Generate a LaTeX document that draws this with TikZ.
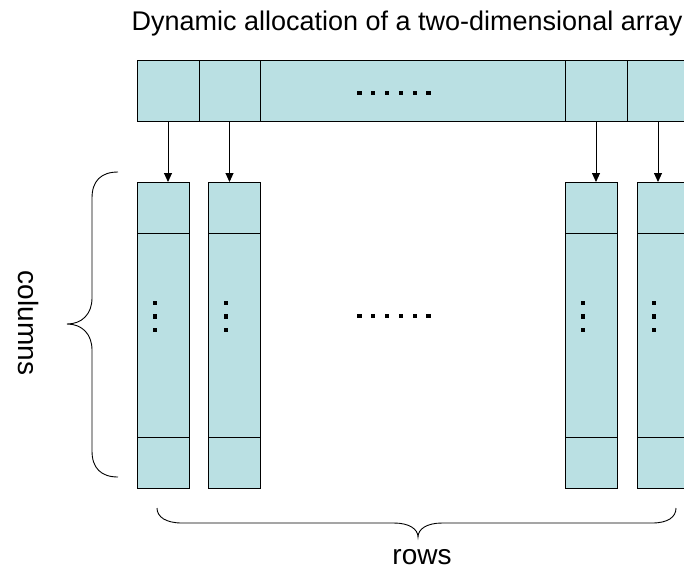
\documentclass[tikz,border=0pt]{standalone}
\usepackage{fontspec}
\setmainfont{Liberation Sans}
\usetikzlibrary{arrows.meta}
\definecolor{cellfill}{RGB}{186,224,227}
\tikzset{
  cell/.style={draw=black, fill=cellfill, line width=0.9pt, rectangle, inner sep=0pt, outer sep=0pt},
  link/.style={draw=black, line width=0.9pt, -{Triangle[width=8pt,length=9pt]}},
  bracepath/.style={draw=black, line width=0.9pt},
  dotmark/.style={fill=black, draw=none, minimum size=4.2pt, inner sep=0pt, rectangle},
  lbl/.style={font=\fontsize{28}{32}\selectfont, inner sep=0pt}
}
\begin{document}
\begin{tikzpicture}[x=1pt,y=-1pt]
\useasboundingbox (0,0) rectangle (684,571);
\clip (0,0) rectangle (684,571);
% title
\node[lbl, anchor=base, font=\fontsize{27}{30}\selectfont] (title) at (407,30) {Dynamic allocation of a two-dimensional array};
% top bar cells
\node[cell, minimum width=62pt, minimum height=61pt] (t1) at (168,90.5) {};
\node[cell, minimum width=61pt, minimum height=61pt] (t2) at (229.5,90.5) {};
\node[cell, minimum width=305pt, minimum height=61pt] (t3) at (412.5,90.5) {};
\node[cell, minimum width=62pt, minimum height=61pt] (t4) at (596,90.5) {};
\node[cell, minimum width=62pt, minimum height=61pt] (t5) at (658,90.5) {};
% columns
\node[cell, minimum width=52pt, minimum height=306pt] (c1) at (163,335) {};
\node[cell, minimum width=52pt, minimum height=306pt] (c2) at (234,335) {};
\node[cell, minimum width=52pt, minimum height=306pt] (c3) at (591,335) {};
\node[cell, minimum width=52pt, minimum height=306pt] (c4) at (663,335) {};
\foreach \c in {c1,c2,c3,c4}{
  \draw[line width=0.9pt] ([yshift=-51pt]\c.north west) -- ([yshift=-51pt]\c.north east);
  \draw[line width=0.9pt] ([yshift=51pt]\c.south west) -- ([yshift=51pt]\c.south east);
}
% arrows
\draw[link] (t1.south) -- (t1.south |- c1.north);
\draw[link] (t2.south) -- (t2.south |- c2.north);
\draw[link] (t4.south) -- (t4.south |- c3.north);
\draw[link] (t5.south) -- (t5.south |- c4.north);
% horizontal dots
\foreach \i in {0,...,5}{
  \node[dotmark] (td\i) at (359.5+13.8*\i,93) {};
  \node[dotmark] (md\i) at (359.5+13.8*\i,316) {};
}
% vertical dots in columns
\foreach \c/\x in {c1/155,c2/226,c3/583,c4/654}{
  \foreach \j in {0,1,2}{
    \node[dotmark] (\c d\j) at (\x,303+13.5*\j) {};
  }
}
% left brace
\draw[bracepath] (118,172) .. controls (101,172) and (92,181) .. (92,198) -- (92,298)
  .. controls (92,314) and (82,324) .. (67,324)
  .. controls (82,324) and (92,334) .. (92,350) -- (92,451)
  .. controls (92,468) and (101,477) .. (118,477);
% bottom brace
\draw[bracepath] (157,508) .. controls (157,517) and (166,523) .. (182,523) -- (394,523)
  .. controls (409,523) and (418,529) .. (418,537)
  .. controls (418,529) and (427,523) .. (442,523) -- (652,523)
  .. controls (668,523) and (676,517) .. (676,508);
% labels
\node[lbl, rotate=-90, anchor=base] (cols) at (18,323) {columns};
\node[lbl, anchor=base] (rows) at (422,564) {rows};
\end{tikzpicture}
\end{document}
